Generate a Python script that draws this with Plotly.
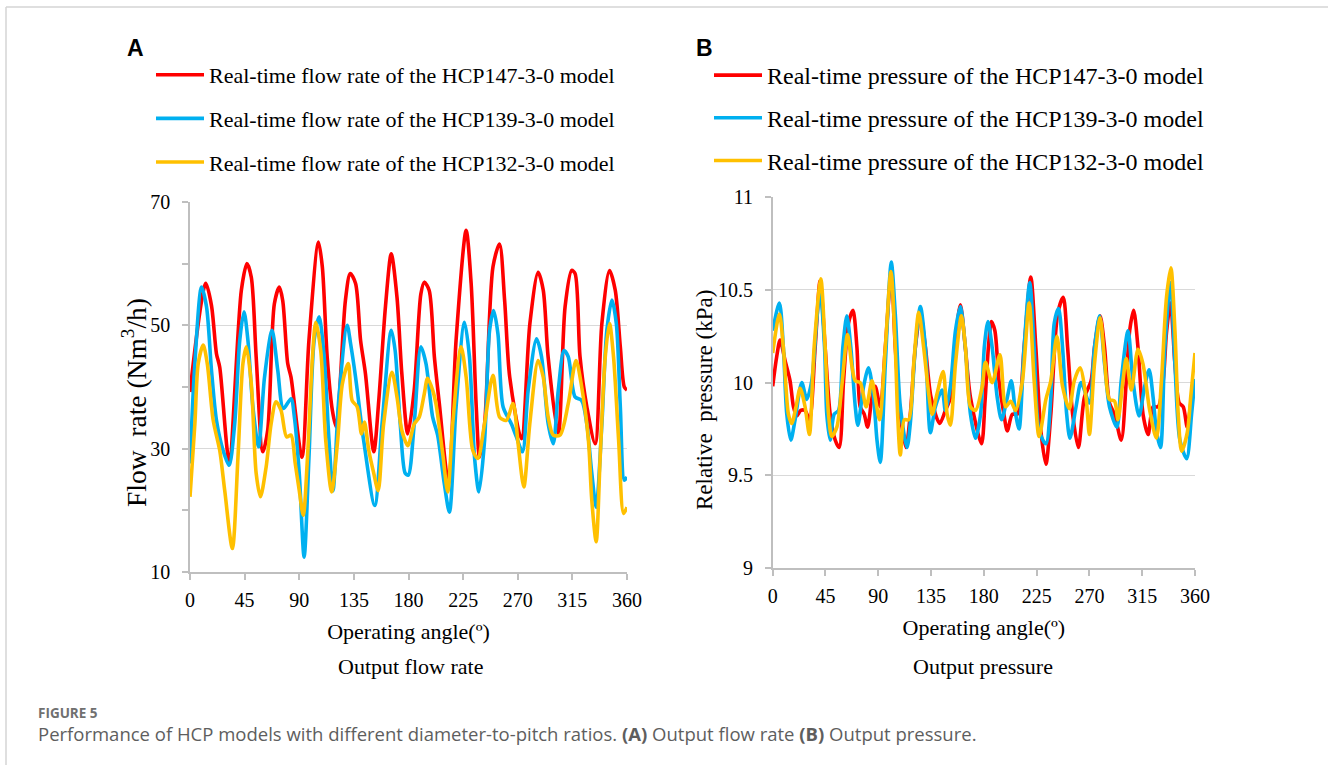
import plotly.graph_objects as go

W, H = 1328, 765

# ---------------- data: panel A (flow rate, Nm3/h) ----------------
flow_angle_147 = [0, 13, 17.7, 21.8, 24.5, 32.2, 42.3, 46.9, 50.5, 54.5, 60, 64, 69.5, 73.6, 76.4, 80.5, 83.2,
                  92.2, 98, 105.8, 109, 113, 117.3, 120.5, 128, 132, 136.4, 140.5, 144.5, 151.4, 155.5, 161,
                  165.8, 170.5, 174.5, 179.4, 184.7, 190.2, 193, 197, 201.3, 205.4, 213, 219.2, 227.5, 231.6,
                  235.8, 238.5, 242.7, 249.6, 255, 259.2, 263.4, 273, 280, 286.8, 291, 295, 303.4, 309, 314.4,
                  317.2, 321.3, 326.9, 333.8, 339.3, 345.6, 350.3, 354.5, 357.8, 360]
flow_147 = [39.2, 56.8, 53.2, 45.4, 43.2, 28.1, 55.7, 60, 57.8, 44.9, 29.5, 33, 53.5, 56.2, 54, 43.8, 41.6,
            28.6, 47.6, 63.5, 59.5, 44.9, 36.2, 33.5, 54, 58.4, 56.8, 47.6, 42.2, 29.5, 37.8, 53,
            61.6, 54.6, 42.2, 32.4, 39.5, 55.1, 57, 55.7, 44.9, 37.3, 24.3, 47.6, 65.4, 56.8,
            36.8, 28.6, 34, 59.5, 63.2, 54, 41.6, 31.6, 50.3, 58.6, 55.7, 44.9, 32.4, 53, 58.9,
            58.4, 44.9, 36.8, 30.8, 50.3, 58.9, 55.7, 46.5, 40, 39.5]

flow_angle_139 = [0, 4, 9.5, 13.6, 17.7, 21.8, 27.3, 32.2, 36.8, 41, 44.5, 47.7, 51.8, 56.5, 61.4, 67.6, 72.3,
                  76.9, 83.2, 86, 90, 94, 98, 102.3, 106.4, 110.5, 114.5, 117.8, 122.7, 129.5, 132.3, 136.4,
                  143, 152.2, 158.2, 165.8, 169, 173.2, 177.3, 179.8, 184.7, 190.2, 194.4, 199.9, 204, 209.5,
                  213.7, 219.2, 226.1, 230.2, 234.4, 238, 242.7, 246.8, 250.1, 253.7, 257.9, 264.8, 268.9,
                  273.9, 278.6, 285.5, 289.6, 295.1, 299.3, 303.4, 308.1, 311.6, 317.2, 322.7, 326.9, 331,
                  334.6, 339.3, 343.4, 347.6, 351.2, 354.5, 357.8, 360]
flow_139 = [27.6, 43.8, 56.2, 53, 42.7, 34.6, 29.7, 27.3, 34, 47.6, 52.2, 47.6, 36.8, 30.3, 41.6, 49.2, 42.7,
            36.5, 38.1, 35.1, 26, 12.4, 28.6, 47.6, 51.4, 44.9, 31.4, 23.2, 38.4, 50, 47, 41.6,
            31.4, 20.8, 34, 49.2, 45.9, 34, 26, 25.7, 34, 46.5, 43.8, 35.1, 32.2, 24.3,
            19.7, 36.8, 50.5, 44.9, 28.6, 23, 31.4, 49.2, 52.4, 48.6, 36.8, 34, 31.9,
            29.5, 39.5, 47.8, 44.9, 34, 30.8, 39.5, 45.9, 44.9, 38.4, 37.8, 34, 26,
            20.5, 34, 49.2, 54.1, 50.3, 36.8, 24.9, 25.4]

flow_angle_132 = [0, 4, 6.8, 10.9, 14.2, 19.1, 24.5, 28.6, 34.9, 39.5, 43.6, 46.4, 50.5, 54.5, 58, 62.7, 66.8,
                  70.9, 75, 79.6, 83.2, 86.7, 90, 93.3, 96.8, 100.9, 103.6, 107.7, 111.8, 116.7, 121.4, 125.5,
                  130.4, 133.6, 137.7, 141.3, 143.7, 147.3, 151.4, 155, 159.5, 166.4, 170.5, 174.5, 179.5,
                  184.7, 188.8, 193, 195.7, 199.9, 202.6, 208.2, 212.3, 216.4, 223.3, 227.5, 233, 237.1,
                  242.6, 249.6, 255.1, 260.6, 266.1, 270.3, 275, 279.9, 286.8, 291, 295.1, 299.3, 304.8,
                  311.6, 318, 322.7, 328.2, 331, 334.6, 337.9, 342.1, 345.6, 348.9, 353.1, 357.2, 360]
flow_132 = [22.2, 34, 43.8, 46.8, 43.8, 34.6, 29.7, 23.2, 13.8, 28.6, 43.8, 46.5, 40.5, 26, 22.2, 27, 34,
            37.6, 36.2, 31.9, 32.2, 27.6, 23.2, 19.2, 28.6, 44.9, 50.5, 45.9, 31.4, 23, 30.8, 40.5,
            43.8, 37.8, 36.8, 32.4, 34.3, 29.7, 26, 23.2, 34, 42.4, 38.4, 33, 30.5,
            34, 35.1, 38.9, 41.4, 39.5, 37.3, 29.2, 23, 34, 46.5, 41.6, 29.7, 28.4,
            34, 41.9, 35.1, 34.6, 37.3, 30.8, 23.8, 34, 44.3, 41.6, 35.1, 32.2, 32.2,
            37.3, 44.3, 40, 31.4, 21.6, 14.9, 28.6, 44.9, 50.3, 44.9, 31.4, 19.5, 20.5]

# ---------------- data: panel B (relative pressure, kPa) ----------------
pres_angle_147 = [0, 3.4, 6.3, 10.5, 14.8, 17.7, 20.5, 23.9, 27.6, 31.3, 36.2, 40.4, 44.7, 49, 53.3, 56.7,
                  60.4, 64.6, 68.4, 71.8, 74.6, 78, 80.9, 84.6, 87.4, 91.7, 96, 101.1, 104.5, 108.8, 113.6,
                  117.3, 121.6, 125.9, 130.2, 135, 142.4, 147.2, 151.5, 155.8, 160, 164.2, 168.6, 178, 181,
                  184, 186.5, 189.4, 192.9, 197.1, 200, 204.3, 208.6, 214.3, 220, 224.3, 228.6, 232.9, 237.1,
                  242.9, 247.7, 251.4, 255.7, 260.6, 265.7, 271.4, 274.3, 279.1, 282.9, 287.1, 291.4, 297.1,
                  301.4, 304.3, 307.7, 311.4, 315.7, 320, 324.3, 328.6, 332.9, 335.7, 339.1, 342.9, 346.6,
                  350, 353.4, 357.1, 360]
pres_147 = [9.98, 10.14, 10.23, 10.12, 10.01, 9.87, 9.82, 9.85, 9.85, 9.80, 10.19, 10.55, 10.19, 9.83, 9.69, 9.65,
            10.01, 10.32, 10.39, 10.19, 9.87, 9.83, 9.76, 9.92, 9.98, 9.87, 10.19, 10.59, 10.19, 9.83, 9.65,
            9.83, 10.19, 10.37, 10.19, 9.92, 9.78, 9.85, 9.92, 10.23, 10.42, 10.19, 9.92, 9.67, 9.90,
            10.20, 10.33, 10.28, 10.01, 9.83, 9.74, 9.83, 9.83, 10.19, 10.57, 10.19, 9.74, 9.56, 9.83,
            10.37, 10.46, 10.19, 9.83, 9.65, 9.92, 10.01, 10.19, 10.36, 10.19, 9.89, 9.83, 9.69,
            10.01, 10.28, 10.39, 10.19, 9.83, 9.72, 9.87, 9.87, 10.01, 10.27, 10.43, 10.10, 9.89,
            9.87, 9.76, 9.92, 10.0]

pres_angle_139 = [0, 5.7, 9.1, 12, 15.4, 19.1, 24.8, 29, 33.3, 37.6, 40.4, 44.2, 46.1, 49, 52.4, 56.1, 59.8,
                  63.2, 66.6, 70.4, 72.6, 77.5, 81.7, 86, 88.9, 91.7, 96, 101.1, 104.5, 108.8, 114.5, 117.3,
                  121.6, 125.9, 130.2, 134.4, 138.7, 144.4, 147.2, 151.5, 155.8, 160, 164.2, 168.6, 172.9,
                  177.2, 180.5, 183.5, 187.1, 191.4, 195.1, 200, 203.4, 207.1, 210, 214.3, 219.1, 222.9,
                  227.1, 232.9, 237.1, 240, 243.7, 247.1, 250.6, 253.4, 258.6, 262.9, 270, 274.3, 278.6,
                  282.9, 287.1, 293.4, 297.1, 302.9, 307.1, 312.3, 317.1, 320.9, 324.3, 327.1, 330.6, 334.3,
                  339.1, 342.9, 347.1, 352.9, 357.1, 360]
pres_139 = [10.28, 10.43, 10.19, 9.83, 9.69, 9.80, 10.0, 9.91, 10.01, 10.34, 10.5, 10.19, 9.83, 9.69, 9.83, 9.85, 10.19,
            10.36, 10.19, 9.87, 9.77, 9.98, 10.08, 9.92, 9.69, 9.57, 10.10, 10.65, 10.37, 9.87, 9.65, 9.78,
            10.19, 10.41, 10.19, 9.73, 9.87, 9.96, 9.85, 9.98, 10.28, 10.41, 10.19, 9.83, 9.70,
            9.83, 10.2, 10.33, 10.19, 9.92, 9.80, 9.92, 10.01, 9.83, 9.75, 10.19, 10.54, 10.19,
            9.74, 9.67, 9.92, 10.32, 10.40, 10.19, 9.83, 9.70, 9.87, 10.0, 9.89, 10.19, 10.36,
            10.10, 9.87, 9.76, 10.01, 10.28, 10.01, 9.82, 9.98, 10.07, 9.92, 9.74, 9.65, 10.19,
            10.54, 10.10, 9.69, 9.59, 9.83, 10.02]

pres_angle_132 = [0, 5.7, 9.1, 13.4, 16.2, 19.9, 23.4, 27.6, 31.3, 35.3, 41, 44.7, 47.6, 50.4, 54.7, 58.9, 63.8,
                  67.5, 70.4, 74.6, 79.7, 84.6, 87.4, 91.1, 96, 100.8, 104.5, 106.5, 108.8, 112.2, 115.9, 120.2,
                  124.5, 128.7, 133, 135.9, 140.1, 145.3, 148.7, 151.5, 155.8, 160.9, 164.3, 168.6, 172.9,
                  178.6, 181.4, 187.1, 193.7, 198.6, 202.9, 207.1, 212.9, 218.6, 222.9, 227.1, 232.9, 237.1,
                  242.3, 247.1, 252.9, 257.1, 262, 267.1, 270, 274.3, 279.1, 282.9, 287.1, 291.4, 294.3,
                  298.6, 301.4, 305.7, 311.4, 315.7, 321.4, 327.1, 331.4, 335.7, 339.4, 342.9, 345.7, 348.6,
                  353.4, 356.3, 360]
pres_132 = [10.16, 10.37, 10.19, 9.83, 9.78, 9.87, 9.97, 9.87, 9.72, 10.19, 10.56, 10.19, 9.83, 9.71, 9.76, 9.98, 10.26,
            10.09, 10.01, 10.0, 9.87, 10.01, 9.92, 9.80, 10.19, 10.60, 10.19, 9.83, 9.61, 9.80, 9.80, 10.10,
            10.38, 10.19, 9.94, 9.83, 9.94, 10.06, 9.83, 9.77, 10.10, 10.36, 10.19, 9.87, 9.85,
            9.98, 10.11, 10.0, 10.15, 9.87, 9.90, 9.85, 10.01, 10.43, 10.01, 9.71, 9.91, 10.01,
            10.25, 9.98, 9.86, 10.01, 10.08, 9.92, 9.72, 10.10, 10.35, 10.12, 9.91, 9.90, 9.80,
            10.01, 10.13, 9.96, 10.18, 10.10, 9.85, 9.70, 10.01, 10.46, 10.62, 10.28, 9.83, 9.63,
            9.73, 9.92, 10.16]

angle_ticks = [0, 45, 90, 135, 180, 225, 270, 315, 360]

flow_names = ["Real-time flow rate of the HCP147-3-0 model",
              "Real-time flow rate of the HCP139-3-0 model",
              "Real-time flow rate of the HCP132-3-0 model"]
pres_names = ["Real-time pressure of the HCP147-3-0 model",
              "Real-time pressure of the HCP139-3-0 model",
              "Real-time pressure of the HCP132-3-0 model"]
colors = ["#FF0000", "#00B0F0", "#FFC000"]

# ---------------- helpers (pixel -> paper) ----------------
def px(x):
    return x / W

def py(y):
    return 1 - y / H

SERIF = "Liberation Serif"
AXIS_GRAY = "#bfbfbf"
GRID_GRAY = "#d9d9d9"

fig = go.Figure()

flow_sets = [(flow_angle_147, flow_147), (flow_angle_139, flow_139), (flow_angle_132, flow_132)]
pres_sets = [(pres_angle_147, pres_147), (pres_angle_139, pres_139), (pres_angle_132, pres_132)]

for i, (xs, ys) in enumerate(flow_sets):
    fig.add_trace(go.Scatter(x=xs, y=ys, mode="lines", name=flow_names[i],
                             line=dict(color=colors[i], width=3.6, shape="spline", smoothing=0.8),
                             xaxis="x", yaxis="y", legend="legend", legendgroup="a%d" % i))
for i, (xs, ys) in enumerate(pres_sets):
    fig.add_trace(go.Scatter(x=xs, y=ys, mode="lines", name=pres_names[i],
                             line=dict(color=colors[i], width=3.6, shape="spline", smoothing=0.8),
                             xaxis="x2", yaxis="y2", legend="legend2", legendgroup="b%d" % i))

xaxis_common = dict(range=[0, 360], tickvals=angle_ticks, ticks="outside", ticklen=6, tickcolor=AXIS_GRAY,
                    tickwidth=1.5, showline=True, linecolor=AXIS_GRAY, linewidth=1.5, showgrid=False,
                    zeroline=False, tickfont=dict(family=SERIF, size=20, color="black"),
                    ticklabelstandoff=3,
                    title=dict(text="Operating angle(º)", font=dict(family=SERIF, size=22, color="black"),
                               standoff=14))
yaxis_common = dict(ticks="outside", ticklen=6, tickcolor=AXIS_GRAY, tickwidth=1.5, showline=True,
                    linecolor=AXIS_GRAY, linewidth=1.5, showgrid=True, gridcolor=GRID_GRAY, gridwidth=1.3,
                    zeroline=False, tickfont=dict(family=SERIF, size=20, color="black"),
                    ticklabelstandoff=8)

fig.update_layout(
    width=W, height=H, autosize=False,
    margin=dict(l=0, r=0, t=0, b=0, pad=0, autoexpand=False),
    paper_bgcolor="white", plot_bgcolor="white",
    xaxis=dict(domain=[px(190), px(627)], anchor="y", **xaxis_common),
    yaxis=dict(domain=[py(572), py(202)], anchor="x", range=[10, 70], tick0=10, dtick=20,
               minor=dict(dtick=10, ticks="outside", ticklen=6, tickcolor=AXIS_GRAY, showgrid=False),
               **yaxis_common),
    xaxis2=dict(domain=[px(772.7), px(1195)], anchor="y2", **xaxis_common),
    yaxis2=dict(domain=[py(568), py(197.3)], anchor="x2", range=[9, 11], tick0=9, dtick=0.5,
                tickvals=[9, 9.5, 10, 10.5, 11], ticktext=["9", "9.5", "10", "10.5", "11"],
                **yaxis_common),
    legend=dict(x=px(151), y=py(54), xanchor="left", yanchor="top", tracegroupgap=12, itemwidth=48,
                font=dict(family=SERIF, size=22, color="black"), bgcolor="rgba(0,0,0,0)"),
    legend2=dict(x=px(709), y=py(53), xanchor="left", yanchor="top", tracegroupgap=8.5, itemwidth=48,
                 font=dict(family=SERIF, size=24, color="black"), bgcolor="rgba(0,0,0,0)"),
    showlegend=True,
)

# frame of the figure page
fig.add_shape(type="line", xref="paper", yref="paper", x0=px(6), x1=1.0, y0=py(7), y1=py(7),
              line=dict(color="#d4d4d4", width=1.5))
fig.add_shape(type="line", xref="paper", yref="paper", x0=px(6), x1=px(6), y0=0, y1=py(7),
              line=dict(color="#d4d4d4", width=1.5))

annotations = [
    dict(text="<b>A</b>", x=px(125), y=py(48), xanchor="left", yanchor="middle",
         font=dict(family="Liberation Sans", size=23, color="black")),
    dict(text="<b>B</b>", x=px(694), y=py(48), xanchor="left", yanchor="middle",
         font=dict(family="Liberation Sans", size=23, color="black")),
    dict(text="Flow  rate (Nm<sup>3</sup>/h)", x=px(134), y=py(403), textangle=-90,
         xanchor="center", yanchor="middle", font=dict(family=SERIF, size=27.5, color="black")),
    dict(text="Relative  pressure (kPa)", x=px(704), y=py(400), textangle=-90,
         xanchor="center", yanchor="middle", font=dict(family=SERIF, size=23, color="black")),
    dict(text="Output flow rate", x=px(410), y=py(666), xanchor="center", yanchor="middle",
         font=dict(family=SERIF, size=22, color="black")),
    dict(text="Output pressure", x=px(983), y=py(666), xanchor="center", yanchor="middle",
         font=dict(family=SERIF, size=22, color="black")),
    dict(text="<b>FIGURE 5</b>", x=px(36), y=py(713), xanchor="left", yanchor="middle",
         font=dict(family="Open Sans", size=13.5, color="#707070")),
    dict(text="Performance of HCP models with different diameter-to-pitch ratios. <b>(A)</b> Output flow rate "
              "<b>(B)</b> Output pressure.",
         x=px(36), y=py(733), xanchor="left", yanchor="middle",
         font=dict(family="Open Sans", size=18.5, color="#5e5e5e")),
]
for a in annotations:
    a.update(xref="paper", yref="paper", showarrow=False)
fig.update_layout(annotations=annotations)

fig.write_html("out.html", post_script="document.body.style.margin='0';document.body.style.overflow='hidden';")
